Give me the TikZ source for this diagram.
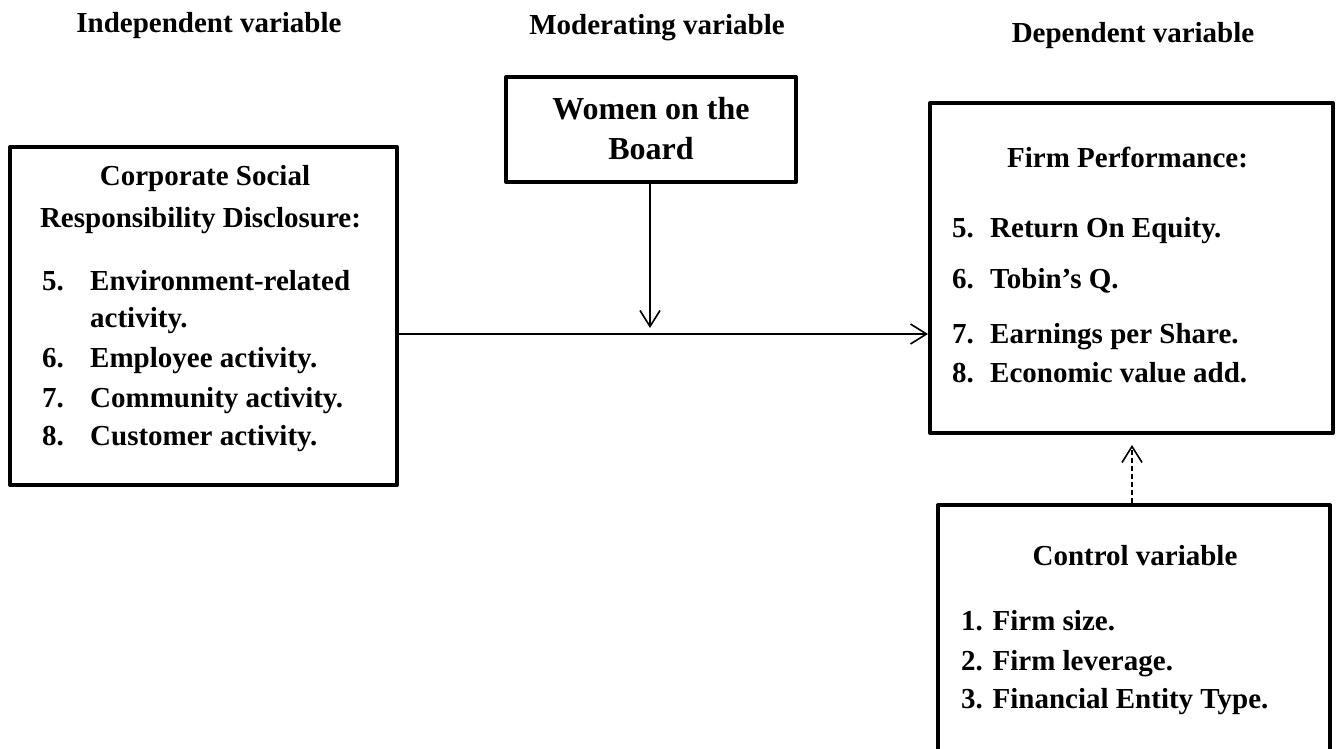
\documentclass[tikz,border=0pt]{standalone}
\usepackage{fontspec}
\setmainfont{Liberation Serif}
\usetikzlibrary{arrows.meta}
\begin{document}
\begin{tikzpicture}[x=1pt,y=-1pt,
  txt/.style={inner sep=0pt,font=\bfseries\fontsize{29}{39}\selectfont},
  hdr/.style={txt,anchor=base},
  itm/.style={txt,anchor=base west},
  bigtxt/.style={inner sep=0pt,anchor=base,font=\bfseries\fontsize{32}{40}\selectfont},
  box/.style={draw,line width=4pt,line join=round,rectangle,inner sep=0pt},
  conn/.style={line width=1.6pt,-{Straight Barb[length=16pt,width=20pt]}},
  dconn/.style={conn,dash pattern=on 5pt off 3pt}]
\clip (0,0) rectangle (1338,749);
\fill[white] (0,0) rectangle (1338,749);
% headers
\node[hdr] (hI) at (209,33) {Independent variable};
\node[hdr] (hM) at (657,35) {Moderating variable};
\node[hdr] (hD) at (1133,43) {Dependent variable};
% boxes
\node[box,minimum width=387pt,minimum height=338pt] (csr) at (203.5,316) {};
\node[box,minimum width=290pt,minimum height=105pt] (wob) at (651,129.5) {};
\node[box,minimum width=403pt,minimum height=330pt] (fp) at (1131.5,268) {};
\node[box,minimum width=392pt,minimum height=295pt] (ctrl) at (1134,652.5) {};
% CSR text
\node[hdr] (c0a) at (205,185) {Corporate Social};
\node[hdr] (c0b) at (200.5,227) {Responsibility Disclosure:};
\node[itm] (c1) at (42,290) {\makebox[48pt][l]{5.}Environment-related};
\node[itm] (c1b) at (90,327) {activity.};
\node[itm] (c2) at (42,367) {\makebox[48pt][l]{6.}Employee activity.};
\node[itm] (c3) at (42,407) {\makebox[48pt][l]{7.}Community activity.};
\node[itm] (c4) at (42,445) {\makebox[48pt][l]{8.}Customer activity.};
% Women text
\node[bigtxt] (w1) at (651,120) {Women on the};
\node[bigtxt] (w2) at (651,160) {Board};
% FP text
\node[hdr] (f0) at (1127.5,167) {Firm Performance:};
\node[itm] (f1) at (952,237) {\makebox[38pt][l]{5.}Return On Equity.};
\node[itm] (f2) at (952,288) {\makebox[38pt][l]{6.}Tobin’s Q.};
\node[itm] (f3) at (952,343) {\makebox[38pt][l]{7.}Earnings per Share.};
\node[itm] (f4) at (952,382) {\makebox[38pt][l]{8.}Economic value add.};
% Control text
\node[hdr] (k0) at (1135,565) {Control variable};
\node[itm] (k1) at (961,630) {1. Firm size.};
\node[itm] (k2) at (961,670) {2. Firm leverage.};
\node[itm] (k3) at (961,708) {3. Financial Entity Type.};
% connectors
\coordinate (modtip) at (650,328);
\draw[conn] (csr.east |- 0,334) -- (fp.west |- 0,334);
\draw[conn] (wob.south -| modtip) -- (modtip);
\draw[dconn,shorten >=10pt] (ctrl.north -| 1132,0) -- (fp.south -| 1132,0);
\end{tikzpicture}
\end{document}
